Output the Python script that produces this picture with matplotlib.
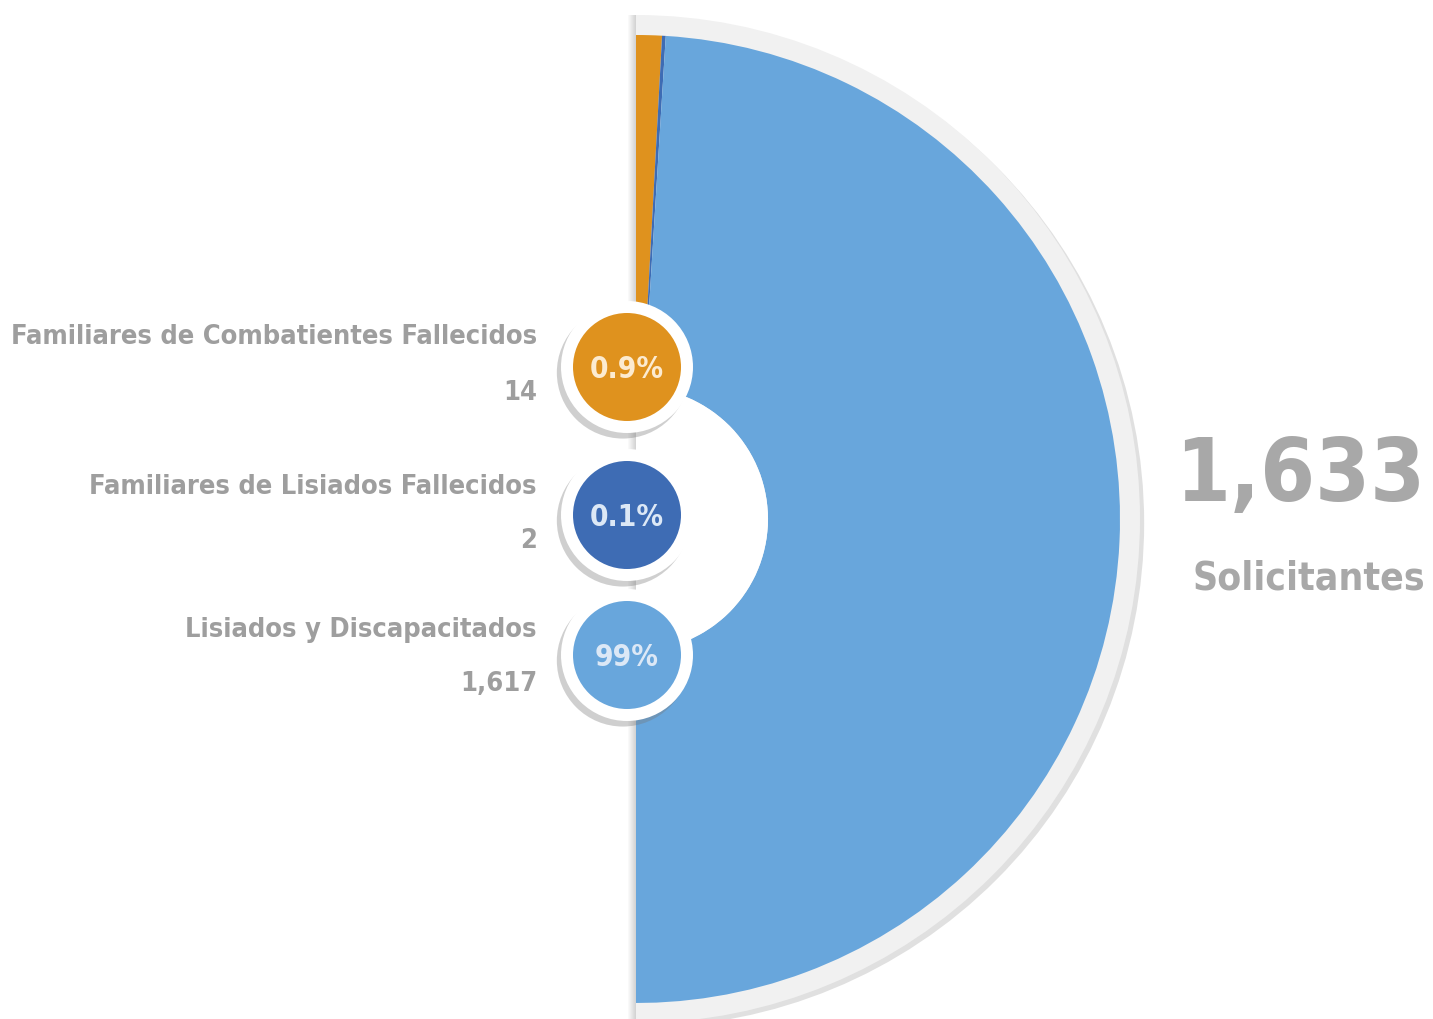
import matplotlib
matplotlib.use("Agg")
import matplotlib.pyplot as plt
from matplotlib.patches import Wedge, Circle, Rectangle
from matplotlib import font_manager
import matplotlib.patheffects as pe

# datos
categorias = ["Familiares de Combatientes Fallecidos",
              "Familiares de Lisiados Fallecidos",
              "Lisiados y Discapacitados"]
solicitantes = [14, 2, 1617]
etiquetas_valor = ["14", "2", "1,617"]
porcentajes = ["0.9%", "0.1%", "99%"]
total_txt = "1,633"
subtitulo = "Solicitantes"
colores = ["#DF921E", "#3E6CB4", "#68A6DC"]

# buscar la fuente mas angosta que haya (la original es condensada)
orden = {"ultra-condensed": 0, "extra-condensed": 1, "condensed": 2, "semi-condensed": 3}
candidatas = [f for f in font_manager.fontManager.ttflist
              if (f.stretch in orden or "Narrow" in f.name or "Condensed" in f.name)
              and "Mono" not in f.name and "Serif" not in f.name and f.style == "normal"]
candidatas.sort(key=lambda f: (orden.get(f.stretch, 2), abs(int(f.weight) - 700) if str(f.weight).isdigit() else 100))
if candidatas:
    fuente = font_manager.FontProperties(fname=candidatas[0].fname)
else:
    fuente = font_manager.FontProperties(family="DejaVu Sans", weight="bold", stretch="condensed")

gris = "#9E9E9E"

fig = plt.figure(figsize=(14.33, 10.19), dpi=100)
ax = fig.add_axes([0, 0, 1, 1])

# centro y radios en pixeles
cx, cy = 636, 500
r_ext = 484
r_anillo = 504
r_hueco = 132

# anillo gris de fondo
anillo = Wedge((cx, cy), r_anillo, -90, 90, facecolor="#F1F1F1", edgecolor="none", zorder=1)
anillo.set_path_effects([pe.SimplePatchShadow(offset=(3, -3), shadow_rgbFace="#999999", alpha=0.3),
                         pe.Normal()])
ax.add_patch(anillo)

# dona completa; la mitad izquierda se tapa despues
wedges, _ = ax.pie(solicitantes, colors=colores, startangle=90, counterclock=False,
                   radius=r_ext, center=(cx, cy),
                   wedgeprops=dict(width=r_ext - r_hueco, edgecolor="none", zorder=2))

# tapar mitad izquierda y el hueco
ax.add_patch(Rectangle((0, 0), cx, 1019, facecolor="white", edgecolor="none", zorder=3))
ax.add_patch(Wedge((cx, cy), r_hueco, -90, 90, facecolor="white", edgecolor="none", zorder=3))

# sombra vertical en el borde izquierdo
for i in range(8):
    ax.add_patch(Rectangle((cx - i - 1, cy - r_anillo), 1, 2 * r_anillo,
                           facecolor="#888888", alpha=0.045 * (8 - i), edgecolor="none", zorder=4))

# circulos con porcentajes
y_circ = [652, 504, 364]
x_circ = 627
col_txt = ["#FCEBD0", "#DCE8F6", "#DCE8F6"]
textos_pct = []
for y, c, p, ct in zip(y_circ, colores, porcentajes, col_txt):
    borde = Circle((x_circ, y), 66, facecolor="white", edgecolor="none", zorder=5)
    borde.set_path_effects([pe.SimplePatchShadow(offset=(-3, -4), shadow_rgbFace="#777777", alpha=0.35),
                            pe.Normal()])
    ax.add_patch(borde)
    ax.add_patch(Circle((x_circ, y), 54, facecolor=c, edgecolor="none", zorder=6))
    textos_pct.append(ax.text(x_circ, y - 2, p, ha="center", va="center", fontproperties=fuente,
                              fontsize=30, color=ct, zorder=7))

# etiquetas a la izquierda
y_lab = [682, 532, 389]
y_val = [626, 478, 335]
textos_lab = []
for cat, v, yl, yv in zip(categorias, etiquetas_valor, y_lab, y_val):
    textos_lab.append(ax.text(537, yl, cat, ha="right", va="center", fontproperties=fuente,
                              fontsize=30, color=gris))
    textos_lab.append(ax.text(537, yv, v, ha="right", va="center", fontproperties=fuente,
                              fontsize=30, color=gris))

# total
t_total = ax.text(1425, 542, total_txt, ha="right", va="center", fontproperties=fuente,
                  fontsize=80, color="#A8A8A8")
t_sub = ax.text(1425, 441, subtitulo, ha="right", va="center", fontproperties=fuente,
                fontsize=40, color="#A8A8A8")

ax.set_xlim(0, 1433)
ax.set_ylim(0, 1019)
ax.set_aspect("equal")
ax.axis("off")

# ajustar tamanos al ancho que ocupan en la imagen original
r = fig.canvas.get_renderer()

def tam_para(t, ancho, tope):
    w = t.get_window_extent(r).width
    return min(tope, t.get_fontsize() * ancho / w)

s = tam_para(textos_lab[0], 526, 44)
for t in textos_lab:
    t.set_fontsize(s)
t_total.set_fontsize(tam_para(t_total, 250, 112))
t_sub.set_fontsize(tam_para(t_sub, 232, 50))
s = min(tam_para(t, 74 if len(t.get_text()) > 3 else 64, 50) for t in textos_pct)
for t in textos_pct:
    t.set_fontsize(s)

fig.savefig("out.png", dpi=100, facecolor="white")
